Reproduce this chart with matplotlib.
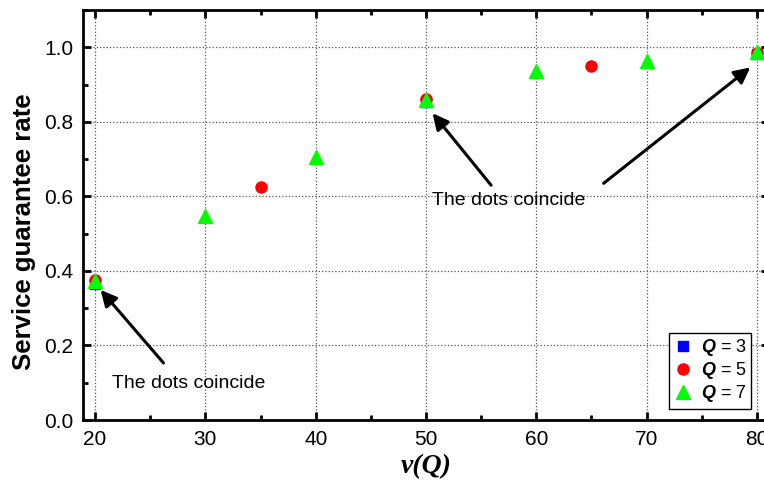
import matplotlib.pyplot as plt
from matplotlib.ticker import MultipleLocator

plt.rcParams['font.family'] = 'Liberation Sans'
plt.rcParams['mathtext.fontset'] = 'custom'
plt.rcParams['mathtext.it'] = 'Liberation Sans:italic:bold'
plt.rcParams['mathtext.rm'] = 'Liberation Sans'

# service guarantee rate for each queue size Q
v_q3 = [20, 50, 80]
rate_q3 = [0.365, 0.853, 0.982]
v_q5 = [20, 35, 50, 65, 80]
rate_q5 = [0.375, 0.625, 0.860, 0.951, 0.986]
v_q7 = [20, 30, 40, 50, 60, 70, 80]
rate_q7 = [0.372, 0.548, 0.705, 0.858, 0.937, 0.962, 0.987]

fig = plt.figure(figsize=(7.64, 4.91), dpi=100)
ax = fig.add_axes([0.1086, 0.1446, 0.898, 0.835])

ax.plot(v_q3, rate_q3, 's', color='#0000ff', ms=6.5, label='$Q$ = 3', zorder=3)
ax.plot(v_q5, rate_q5, 'o', color='#ff0000', ms=8, label='$Q$ = 5', zorder=4)
ax.plot(v_q7, rate_q7, '^', color='#00ff00', ms=10, label='$Q$ = 7', zorder=5)

ax.set_xlim(18.9, 81.1)
ax.set_ylim(0, 1.1)
ax.xaxis.set_major_locator(MultipleLocator(10))
ax.xaxis.set_minor_locator(MultipleLocator(5))
ax.yaxis.set_major_locator(MultipleLocator(0.2))
ax.yaxis.set_minor_locator(MultipleLocator(0.1))
ax.yaxis.set_major_formatter(plt.FormatStrFormatter('%.1f'))

ax.grid(True, which='major', linestyle=':', color='#555555', linewidth=0.9)
ax.set_axisbelow(True)
for s in ax.spines.values():
    s.set_linewidth(2.0)
ax.tick_params(which='both', direction='in', top=True, right=True, labelsize=15, width=2.0)
ax.tick_params(which='major', length=6, pad=7)
ax.tick_params(which='minor', length=3.5)

ax.set_ylabel('Service guarantee rate', fontsize=18.5, fontweight='bold')
ax.yaxis.set_label_coords(-0.068, 0.46)
ax.set_xlabel('v(Q)', fontsize=20, fontweight='bold', fontstyle='italic',
              family='Liberation Serif', labelpad=4)

arrow = dict(arrowstyle='-|>', color='black', lw=2.2, mutation_scale=24, shrinkA=0, shrinkB=0)
ax.annotate('', xy=(20.5, 0.349), xytext=(26.2, 0.153), arrowprops=arrow)
ax.text(21.5, 0.099, 'The dots coincide', fontsize=14, va='center', ha='left')
ax.annotate('', xy=(50.6, 0.823), xytext=(55.9, 0.63), arrowprops=arrow)
ax.annotate('', xy=(79.4, 0.946), xytext=(66.1, 0.635), arrowprops=arrow)
ax.text(50.55, 0.59, 'The dots coincide', fontsize=14, va='center', ha='left')

leg = ax.legend(loc='lower right', bbox_to_anchor=(0.974, 0.027), fontsize=13,
                frameon=True, fancybox=False, edgecolor='black', framealpha=1,
                handlelength=1.0, handletextpad=0.5, borderpad=0.25, labelspacing=0.12,
                borderaxespad=0)
leg.get_frame().set_linewidth(1.0)

fig.savefig('out.png', dpi=100)
